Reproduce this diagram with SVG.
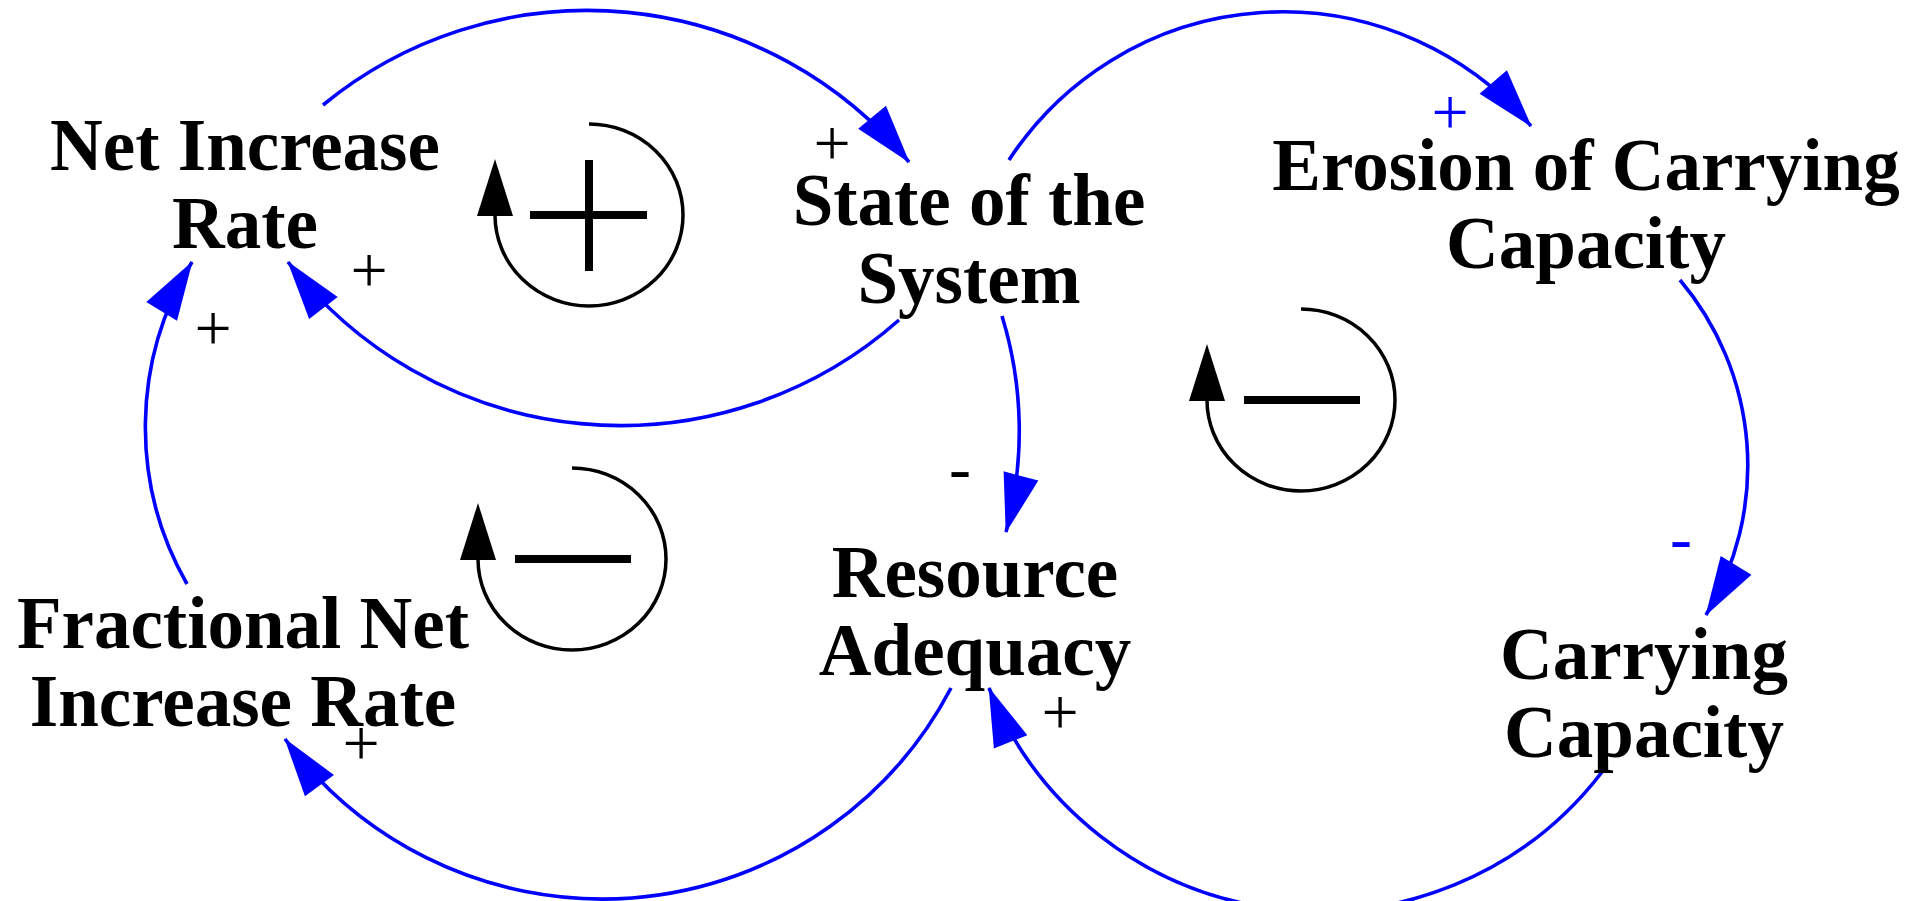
<svg xmlns="http://www.w3.org/2000/svg" width="1923" height="901" viewBox="0 0 1923 901">
<style>
.lbl{font-family:"Liberation Serif","Times New Roman",serif;font-weight:bold;font-size:73px;fill:#000;text-anchor:middle}
.pol{font-family:"Liberation Serif","Times New Roman",serif;font-size:66px;text-anchor:middle}
.lnk{fill:none;stroke:#0000ff;stroke-width:3.6}
.loop{fill:none;stroke:#000;stroke-width:3.5}
.sym{stroke:#000;stroke-width:8;fill:none}
</style>
<defs>
<marker id="ab" viewBox="-64 -20 70 40" markerWidth="70" markerHeight="40" refX="0" refY="0" orient="auto" markerUnits="userSpaceOnUse">
<path d="M1,0 L-58,-18 L-58,18 Z" fill="#0000ff"/>
</marker>
<marker id="lb" viewBox="-4 -20 64 40" markerWidth="64" markerHeight="40" refX="0" refY="0" orient="auto" markerUnits="userSpaceOnUse">
<path d="M-1,-18 L56,0 L-1,18 Z" fill="#000"/>
</marker>
</defs>
<g id="connectors">
<path class="lnk" d="M323,105 A417,417 0 0 1 909,162" marker-end="url(#ab)"/>
<path class="lnk" d="M1009,160 A327,327 0 0 1 1531,126" marker-end="url(#ab)"/>
<path class="lnk" d="M899,320 A420,420 0 0 1 288,262" marker-end="url(#ab)"/>
<path class="lnk" d="M187,584 A316,316 0 0 1 192,262" marker-end="url(#ab)"/>
<path class="lnk" d="M1002,316 A391,391 0 0 1 1006,532" marker-end="url(#ab)"/>
<path class="lnk" d="M1680,280 A288,288 0 0 1 1706,615" marker-end="url(#ab)"/>
<path class="lnk" d="M1602,772 A356,356 0 0 1 989,688" marker-end="url(#ab)"/>
<path class="lnk" d="M951,688 A394,394 0 0 1 285,739" marker-end="url(#ab)"/>
<text class="pol" x="832" y="165">+</text>
<text class="pol" x="369" y="292">+</text>
<text class="pol" x="213" y="350">+</text>
<text class="pol" x="361" y="765">+</text>
<text class="pol" x="1060" y="734">+</text>
<text class="pol" x="1450" y="134" fill="#0000ff">+</text>
<text class="pol" x="960" y="490">-</text>
<text class="pol" x="1681" y="560" fill="#0000ff">-</text>
</g>
<g id="loop-r1">
<path class="loop" d="M589,124 A94,91 0 1 1 495,215" marker-end="url(#lb)"/>
<path class="sym" d="M589,160 V271 M530,215 H647"/>
</g>
<g id="loop-b1">
<path class="loop" d="M1301,309 A94,91 0 1 1 1207,400" marker-end="url(#lb)"/>
<path class="sym" d="M1244,400 H1360"/>
</g>
<g id="loop-b2">
<path class="loop" d="M572,468 A94,91 0 1 1 478,559" marker-end="url(#lb)"/>
<path class="sym" d="M515,559 H631"/>
</g>
<g id="net-increase-rate">
<text class="lbl" x="245" y="170">Net Increase</text>
<text class="lbl" x="245" y="248">Rate</text>
</g>
<g id="state-of-the-system">
<text class="lbl" x="969" y="225">State of the</text>
<text class="lbl" x="969" y="303">System</text>
</g>
<g id="erosion-of-carrying-capacity">
<text class="lbl" x="1586" y="190">Erosion of Carrying</text>
<text class="lbl" x="1586" y="268">Capacity</text>
</g>
<g id="fractional-net-increase-rate">
<text class="lbl" x="243" y="648">Fractional Net</text>
<text class="lbl" x="243" y="726">Increase Rate</text>
</g>
<g id="resource-adequacy">
<text class="lbl" x="975" y="597">Resource</text>
<text class="lbl" x="975" y="675">Adequacy</text>
</g>
<g id="carrying-capacity">
<text class="lbl" x="1644" y="679">Carrying</text>
<text class="lbl" x="1644" y="757">Capacity</text>
</g>
</svg>
